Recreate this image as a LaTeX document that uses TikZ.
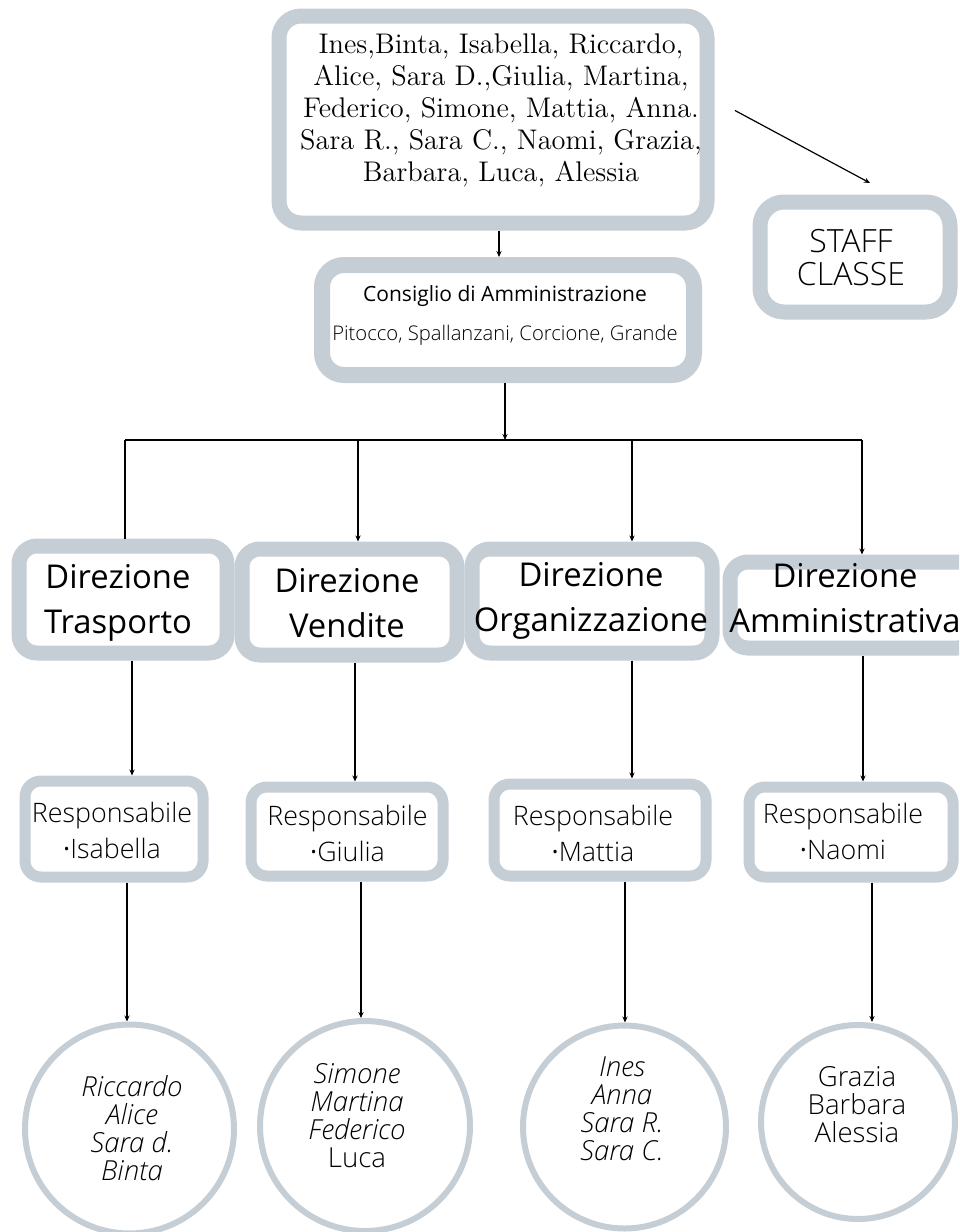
\documentclass[tikz,border=0pt]{standalone}
\usepackage{fontspec}
\usepackage{tikz}
\usetikzlibrary{arrows.meta}
\newfontfamily\osr{Open Sans}
\newfontfamily\osl{Open Sans Light}
\definecolor{rim}{RGB}{197,205,213}

\begin{document}
\begin{tikzpicture}[x=0.5pt,y=-0.5pt,
    box/.style={draw=rim,line width=7.5pt,rounded corners=11pt,fill=white},
    respbox/.style={draw=rim,line width=5.5pt,rounded corners=8pt,fill=white},
    cerchio/.style={circle,draw=rim,line width=3pt,fill=white},
    txt/.style={align=center,inner sep=0pt},
    dirtxt/.style={txt,font=\osr\fontsize{16.4}{22.5}\selectfont},
    resptxt/.style={txt,font=\osl\fontsize{13.4}{18}\selectfont},
    nomi/.style={txt,font=\osl\fontsize{13.8}{14}\selectfont},
    arr/.style={-{Stealth[length=3pt,width=2.6pt]},line width=0.6pt}]
    \useasboundingbox (0,0) rectangle (959,1232);
    \clip (0,0) rectangle (959,1232);
    % soci
    \node[box,minimum width=214pt,minimum height=103.5pt] (soci) at (493,119.5) {};
    \node[txt,font=\fontsize{14.2}{16}\selectfont] (soci-t) at (501,110)
        {Ines,Binta, Isabella, Riccardo,\\Alice, Sara D.,Giulia, Martina,\\
         Federico, Simone, Mattia, Anna.\\Sara R., Sara C., Naomi, Grazia,\\
         Barbara, Luca, Alessia};
    \node[box,rounded corners=12pt,minimum width=95pt,minimum height=55pt] (staff) at (855,257) {};
    \node[txt,font=\osl\fontsize{16}{16.5}\selectfont] (staff-t) at (851,258) {STAFF\\CLASSE};
    \node[box,line width=8pt,minimum width=186pt,minimum height=55pt] (cda) at (508,320) {};
    \node[txt,font=\fontsize{10.5}{19.5}\selectfont] (cda-t) at (505,315)
        {{\osr Consiglio di Amministrazione}\\{\osl\fontsize{10.1}{19.5}\selectfont Pitocco, Spallanzani, Corcione, Grande}};
    % direzioni
    \node[box,rounded corners=9pt,minimum width=104pt,minimum height=53.5pt] (dir1) at (123,599.5) {};
    \node[box,rounded corners=9pt,minimum width=107.5pt,minimum height=53pt] (dir2) at (349.5,602) {};
    \node[box,rounded corners=9pt,minimum width=120pt,minimum height=52pt] (dir3) at (592,601) {};
    \node[box,rounded corners=9pt,minimum width=122.5pt,minimum height=43pt] (dir4) at (852.5,605) {};
    \node[dirtxt] (dir1-t) at (118,602.5) {Direzione\\Trasporto};
    \node[dirtxt] (dir2-t) at (347,603) {Direzione\\Vendite};
    \node[dirtxt] (dir3-t) at (591,601) {Direzione\\Organizzazione};
    \node[dirtxt] (dir4-t) at (845,598) {Direzione\\Amministrativa};
    % responsabili
    \node[respbox,minimum width=89pt,minimum height=48pt] (resp1) at (114,829) {};
    \node[respbox,minimum width=96pt,minimum height=44.5pt] (resp2) at (347,831.5) {};
    \node[respbox,minimum width=106pt,minimum height=46pt] (resp3) at (600,830) {};
    \node[respbox,minimum width=102pt,minimum height=45pt] (resp4) at (851,832) {};
    \node[resptxt] (resp1-t) at (112,830.5) {Responsabile\\{\osr·}Isabella};
    \node[resptxt] (resp2-t) at (347.5,833.5) {Responsabile\\{\osr·}Giulia};
    \node[resptxt] (resp3-t) at (593,833) {Responsabile\\{\osr·}Mattia};
    \node[resptxt] (resp4-t) at (843,831.5) {Responsabile\\{\osr·}Naomi};
    % gruppi
    \node[cerchio,minimum size=104.5pt] (c1) at (129.5,1129) {};
    \node[cerchio,minimum size=105pt] (c2) at (365,1126) {};
    \node[cerchio,minimum size=101.5pt] (c3) at (624.5,1127) {};
    \node[cerchio,minimum size=97pt] (c4) at (858,1122) {};
    \node[nomi] (c1-t) at (132,1128.5) {\itshape Riccardo\\\itshape Alice\\\itshape Sara d.\\\itshape Binta};
    \node[nomi] (c2-t) at (357,1116) {\itshape Simone\\\itshape Martina\\\itshape Federico\\Luca};
    \node[nomi] (c3-t) at (622,1108.5) {\itshape Ines\\\itshape Anna\\\itshape Sara R.\\\itshape Sara C.};
    \node[nomi] (c4-t) at (857,1104.5) {Grazia\\Barbara\\Alessia};
    % collegamenti
    \coordinate (bus) at (505,440);
    \draw[arr] ([shift={(20.5,-9)}]soci.east) -- ([shift={(15,-11.5)}]staff.north);
    \draw[arr] (499,0 |- soci.south) -- (499,0 |- cda.north);
    \draw[arr] (505,0 |- cda.south) -- (bus);
    \draw[line width=0.6pt] (125,0 |- bus) -- (862,0 |- bus);
    \draw[line width=0.6pt] (125,0 |- bus) -- (125,0 |- dir1.north);
    \draw[arr] (358,0 |- bus) -- (358,0 |- dir2.north);
    \draw[arr] (632,0 |- bus) -- (632,0 |- dir3.north);
    \draw[arr] (862,0 |- bus) -- (862,0 |- dir4.north);
    \draw[arr] (132,0 |- dir1.south) -- (132,0 |- resp1.north);
    \draw[arr] (355,0 |- dir2.south) -- (355,0 |- resp2.north);
    \draw[arr] (632,0 |- dir3.south) -- (632,0 |- resp3.north);
    \draw[arr] (863,0 |- dir4.south) -- (863,0 |- resp4.north);
    \draw[arr] (127,0 |- resp1.south) -- (127,0 |- c1.north);
    \draw[arr] (361,0 |- resp2.south) -- (361,0 |- c2.north);
    \draw[arr] (625,0 |- resp3.south) -- (625,0 |- c3.north);
    \draw[arr] (872,0 |- resp4.south) -- (872,0 |- c4.north);
\end{tikzpicture}
\end{document}
